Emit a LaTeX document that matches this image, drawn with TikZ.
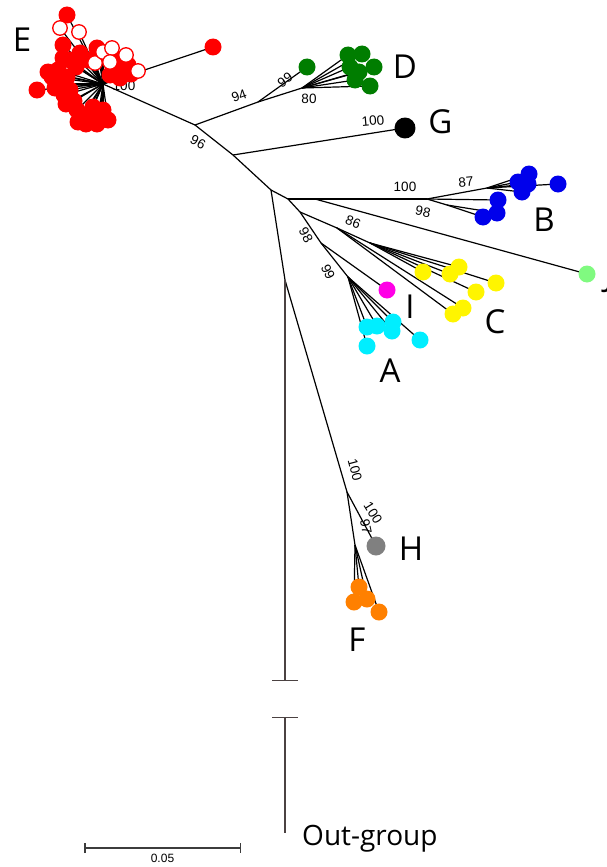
\documentclass[tikz,border=0pt]{standalone}
\usepackage{fontspec}
\setmainfont{Open Sans}
\newfontfamily\numfont{Liberation Sans}
\usetikzlibrary{positioning,arrows.meta}
\pgfdeclarelayer{bg}
\pgfsetlayers{bg,main}

\definecolor{cE}{RGB}{255,0,0}
\definecolor{cD}{RGB}{0,125,0}
\definecolor{cB}{RGB}{0,0,235}
\definecolor{cC}{RGB}{255,245,0}
\definecolor{cA}{RGB}{0,238,255}
\definecolor{cI}{RGB}{255,0,230}
\definecolor{cJ}{RGB}{128,250,128}
\definecolor{cH}{RGB}{128,128,128}
\definecolor{cF}{RGB}{255,128,0}
\definecolor{outgr}{RGB}{75,66,66}
\definecolor{barc}{RGB}{60,60,60}

\begin{document}
\begin{tikzpicture}[x=1pt,y=-1pt,
  branch/.style={line width=1.2pt,black},
  dot/.style={circle,inner sep=0pt,minimum size=17pt,fill=#1},
  ring/.style={circle,inner sep=0pt,minimum size=14.5pt,draw=cE,line width=1.3pt,fill=white},
  clade/.style={inner sep=0pt,font=\fontsize{33}{33}\selectfont},
  boot/.style={inner sep=0pt,font=\numfont\fontsize{13.5}{13.5}\selectfont},
  outline/.style={line width=1.2pt,outgr},
  scalebar/.style={line width=1.5pt,barc}]

\useasboundingbox (0,0) rectangle (606,867);

% inner nodes of the tree
\coordinate (eh)   at (103,84);
\coordinate (n96)  at (195,125);
\coordinate (n94)  at (258,102);
\coordinate (n80)  at (302,88);
\coordinate (nG)   at (233,155);
\coordinate (n1)   at (271,190);
\coordinate (n2)   at (288,199);
\coordinate (nJ)   at (315,199);
\coordinate (nB)   at (427,199);
\coordinate (nB87) at (487,188);
\coordinate (nB98) at (447,205);
\coordinate (n3)   at (300,212);
\coordinate (n86)  at (337,228);
\coordinate (nC)   at (370,243);
\coordinate (n98)  at (321,243);
\coordinate (nA)   at (348,277);
\coordinate (nR)   at (285,280);
\coordinate (nFH)  at (347,492);
\coordinate (nF)   at (355,545);
\coordinate (gtop) at (285,681);
\coordinate (gbot) at (285,717);
\coordinate (ogend) at (285,833);

% clade E
\foreach \n/\x/\y in {1/67/15, 2/63/45, 3/37/90, 4/52/77, 5/80/53, 6/97/48,
    7/100/55, 8/113/58, 9/128/65, 10/118/68, 11/110/75, 12/76/67, 13/67/77,
    14/60/84, 15/70/90, 16/74/101, 17/77/110, 18/83/118, 19/100/118,
    20/103/110, 21/93/107, 22/88/116, 23/70/60, 24/55/88, 25/66/104,
    26/48/72, 27/58/70, 28/86/124, 29/97/124, 30/108/120, 31/64/95,
    32/120/78, 33/131/74, 34/88/60, 35/63/58, 36/78/122}
  \node[dot=cE] (e\n) at (\x,\y) {};
\node[dot=cE] (e0) at (213,47) {};
\foreach \n/\x/\y in {1/60/28, 2/79/32, 3/95/63, 4/103/52, 5/112/48,
    6/126/55, 7/138/71, 8/110/62}
  \node[ring] (o\n) at (\x,\y) {};

% clade D
\node[dot=cD] (d0) at (307,67) {};
\foreach \n/\x/\y in {1/348/55, 2/362/54, 3/374/67, 4/350/67, 5/355/80,
    6/370/86, 7/359/72}
  \node[dot=cD] (d\n) at (\x,\y) {};

% clade G
\node[dot=black,minimum width=21pt,minimum height=18pt,rotate=20] (g) at (405,128) {};

% clade B and J
\foreach \n/\x/\y in {1/518/182, 2/529/174, 3/528/184, 4/522/192, 5/558/184,
    6/498/200, 7/497/213, 8/483/217}
  \node[dot=cB] (b\n) at (\x,\y) {};
\node[dot=cJ] (j) at (587,274) {};

% clades C, I, A
\foreach \n/\x/\y in {1/423/272, 2/450/274, 3/459/267, 4/496/283, 5/476/292,
    6/463/308, 7/453/314}
  \node[dot=cC] (c\n) at (\x,\y) {};
\node[dot=cI] (i) at (387,290) {};
\foreach \n/\x/\y in {1/367/327, 2/377/326, 3/393/322, 4/392/331, 5/367/346,
    6/420/340}
  \node[dot=cA] (a\n) at (\x,\y) {};

% clades H and F
\node[dot=cH,minimum width=19pt,minimum height=17pt] (h) at (376,546) {};
\foreach \n/\x/\y in {1/359/587, 2/354/602, 3/367/599, 4/379/612}
  \node[dot=cF] (f\n) at (\x,\y) {};

% clade letters
\node[clade] (labE) at (22,40) {E};
\node[clade, right=10pt of d3] (labD) {D};
\node[clade, right=13pt of g, yshift=3pt] (labG) {G};
\node[clade] (labB) at (544,220) {B};
\node[clade] (labI) at (410,307) {I};
\node[clade] (labC) at (495,322) {C};
\node[clade] (labA) at (390,371) {A};
\node[clade, right=13pt of h, yshift=-3pt] (labH) {H};
\node[clade] (labF) at (357,640) {F};
\node[clade, anchor=base west] (labJ) at (604,286) {J};

% bootstrap values
\node[boot, rotate=-28] (bs96) at (198,142) {96};
\node[boot, rotate=20] (bs94) at (239,96) {94};
\node[boot, rotate=35] (bs99d) at (285,80) {99};
\node[boot] (bs80) at (309,99) {80};
\node[boot, rotate=5] (bs100g) at (373,121) {100};
\node[boot] (bs100b) at (405,187) {100};
\node[boot, rotate=5] (bs87) at (466,182) {87};
\node[boot, rotate=-12] (bs98b) at (423,212) {98};
\node[boot, rotate=-22] (bs86) at (353,222) {86};
\node[boot, rotate=-62] (bs98) at (306,235) {98};
\node[boot, rotate=-65] (bs99a) at (328,272) {99};
\node[boot, rotate=-75] (bs100f) at (355,470) {100};
\node[boot, rotate=-58] (bs100h) at (373,513) {100};
\node[boot, rotate=-78] (bs97) at (366,527) {97};

% the branches
\begin{pgfonlayer}{bg}
  \node[boot] (bs100e) at (124,86) {100};
  \foreach \n in {0,...,36} \draw[branch] (eh) -- (e\n.center);
  \foreach \n in {1,...,8} \draw[branch] (eh) -- (o\n.center);
  \foreach \n in {1,...,7} \draw[branch] (n80) -- (d\n.center);
  \foreach \n in {1,...,5} \draw[branch] (nB87) -- (b\n.center);
  \foreach \n in {7,8} \draw[branch] (nB98) -- (b\n.center);
  \foreach \n in {1,...,5} \draw[branch] (nC) -- (c\n.center);
  \foreach \n in {6,7} \draw[branch] (n86) -- (c\n.center);
  \foreach \n in {1,...,6} \draw[branch] (nA) -- (a\n.center);
  \foreach \n in {1,...,4} \draw[branch] (nF) -- (f\n.center);
  \path[branch] (eh) edge (n96)
    (n96) edge (nG) edge (n94)
    (n94) edge (d0.center) edge (n80)
    (nG) edge (g.center) edge (n1)
    (n1) edge (n2) edge (nR)
    (n2) edge (nJ) edge (n3)
    (nJ) edge (nB) edge (j.center)
    (nB) edge (nB87) edge (nB98) edge (b6.center)
    (n3) edge (n86) edge (n98)
    (n86) edge (nC)
    (n98) edge (i.center) edge (nA)
    (nR) edge (nFH)
    (nFH) edge (h.center) edge (nF);
\end{pgfonlayer}

% out-group with the break
\draw[outline, -{Bar[width=26pt]}] (nR) -- (gtop);
\draw[outline, {Bar[width=26pt]}-] (gbot) -- (ogend);
\node[anchor=base west, inner sep=0pt, font=\fontsize{28}{28}\selectfont] (og) at (302,845) {Out-group};

% scale bar
\coordinate (s0) at (84,848);
\coordinate (s1) at (241,848);
\draw[scalebar, {Bar[width=10pt]}-{Bar[width=10pt]}] (s0) -- node[below=5pt, inner sep=0pt, font=\numfont\fontsize{12}{12}\selectfont, black] (s05) {0.05} (s1);
\end{tikzpicture}
\end{document}
